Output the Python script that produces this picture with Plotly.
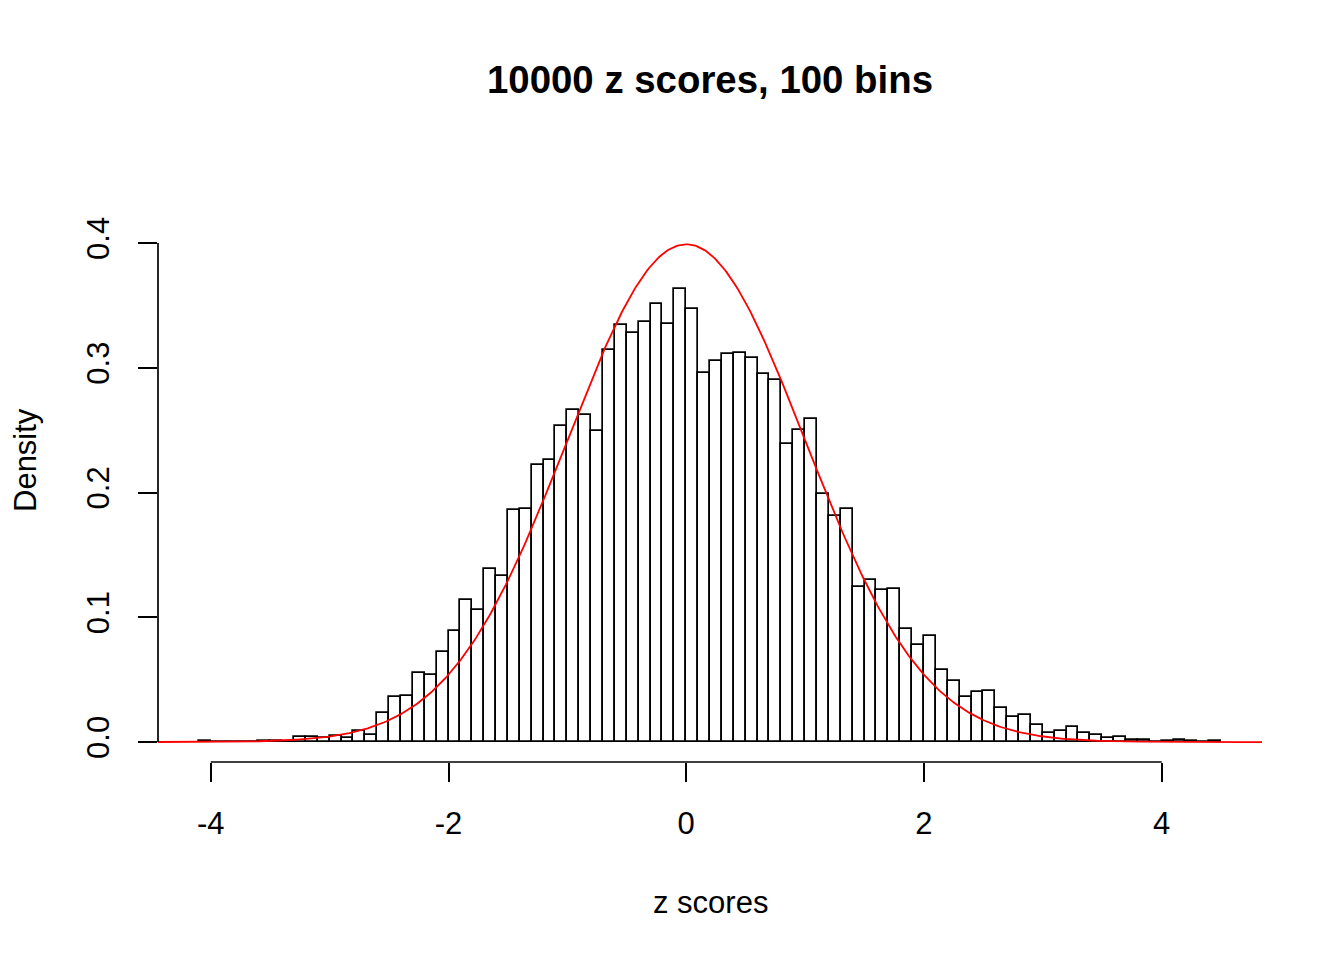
import numpy as np
import plotly.graph_objects as go

# Histogram of 10000 z scores: bins of width 0.1 starting at -4.1
bin_start = -4.1
bin_width = 0.1
density = [
    0.001, 0.0, 0.0, 0.0, 0.0, 0.001, 0.001, 0.0, 0.004, 0.004,
    0.003, 0.005, 0.003, 0.009, 0.006, 0.023, 0.036, 0.037, 0.055, 0.054,
    0.072, 0.089, 0.114, 0.106, 0.139, 0.133, 0.186, 0.187, 0.222, 0.226,
    0.253, 0.266, 0.262, 0.249, 0.314, 0.334, 0.328, 0.337, 0.351, 0.335,
    0.363, 0.347, 0.296, 0.305, 0.311, 0.312, 0.308, 0.295, 0.290, 0.239,
    0.250, 0.259, 0.199, 0.181, 0.187, 0.124, 0.130, 0.122, 0.123, 0.091,
    0.078, 0.085, 0.058, 0.049, 0.036, 0.040, 0.041, 0.027, 0.020, 0.022,
    0.014, 0.007, 0.009, 0.012, 0.007, 0.006, 0.003, 0.004, 0.002, 0.002,
    0.0, 0.001, 0.002, 0.001, 0.0, 0.001,
]
x_ticks = [-4, -2, 0, 2, 4]
y_ticks = [0.0, 0.1, 0.2, 0.3, 0.4]

centers = [bin_start + bin_width * (i + 0.5) for i in range(len(density))]

x_range = [-4.444, 4.844]
y_range = [-0.016, 0.416]

FONT = "Liberation Sans, Arial, Helvetica, sans-serif"

fig = go.Figure()

fig.add_trace(go.Bar(
    x=centers, y=density, width=bin_width,
    marker=dict(color="white", line=dict(color="black", width=1.7)),
    showlegend=False, hoverinfo="x+y",
))

# standard normal density over the full plotting range
xs = np.linspace(x_range[0], x_range[1], 601)
ys = np.exp(-xs ** 2 / 2) / np.sqrt(2 * np.pi)
fig.add_trace(go.Scatter(
    x=xs, y=ys, mode="lines", line=dict(color="#ff0000", width=1.8),
    showlegend=False, hoverinfo="skip",
))

# axis lines spanning only the tick range
fig.add_shape(type="line", xref="x", yref="paper",
              x0=x_ticks[0], x1=x_ticks[-1], y0=0, y1=0,
              line=dict(color="black", width=1.7))
fig.add_shape(type="line", xref="paper", yref="y",
              x0=0, x1=0, y0=y_ticks[0], y1=y_ticks[-1],
              line=dict(color="black", width=1.7))

fig.update_layout(
    width=1344, height=960,
    margin=dict(l=158, r=82, t=223, b=198),
    paper_bgcolor="white", plot_bgcolor="white",
    bargap=0,
    font=dict(family=FONT, size=31, color="black"),
    title=dict(text="<b>10000 z scores, 100 bins</b>",
               x=710 / 1344, xanchor="center",
               y=1 - 80 / 960, yanchor="middle",
               font=dict(family=FONT, size=38.4, color="black")),
    xaxis=dict(range=x_range, tickvals=x_ticks, ticktext=[str(v) for v in x_ticks],
               ticks="outside", ticklen=19, tickwidth=1.7, tickcolor="black",
               showline=False, showgrid=False, zeroline=False,
               ticklabelstandoff=15),
    yaxis=dict(range=y_range, tickvals=y_ticks, ticktext=[f"{v:.1f}" for v in y_ticks],
               ticks="outside", ticklen=19, tickwidth=1.7, tickcolor="black",
               tickangle=-90,
               showline=False, showgrid=False, zeroline=False,
               ticklabelstandoff=17),
    annotations=[
        dict(text="z scores", xref="paper", yref="paper",
             x=0.5, y=(762 - 902) / 539, xanchor="center", yanchor="middle",
             showarrow=False, font=dict(family=FONT, size=31)),
        dict(text="Density", xref="paper", yref="paper",
             x=(25 - 158) / 1104, y=(762 - 460) / 539, xanchor="center", yanchor="middle",
             textangle=-90, showarrow=False, font=dict(family=FONT, size=31)),
    ],
)

fig.write_html("out.html")
